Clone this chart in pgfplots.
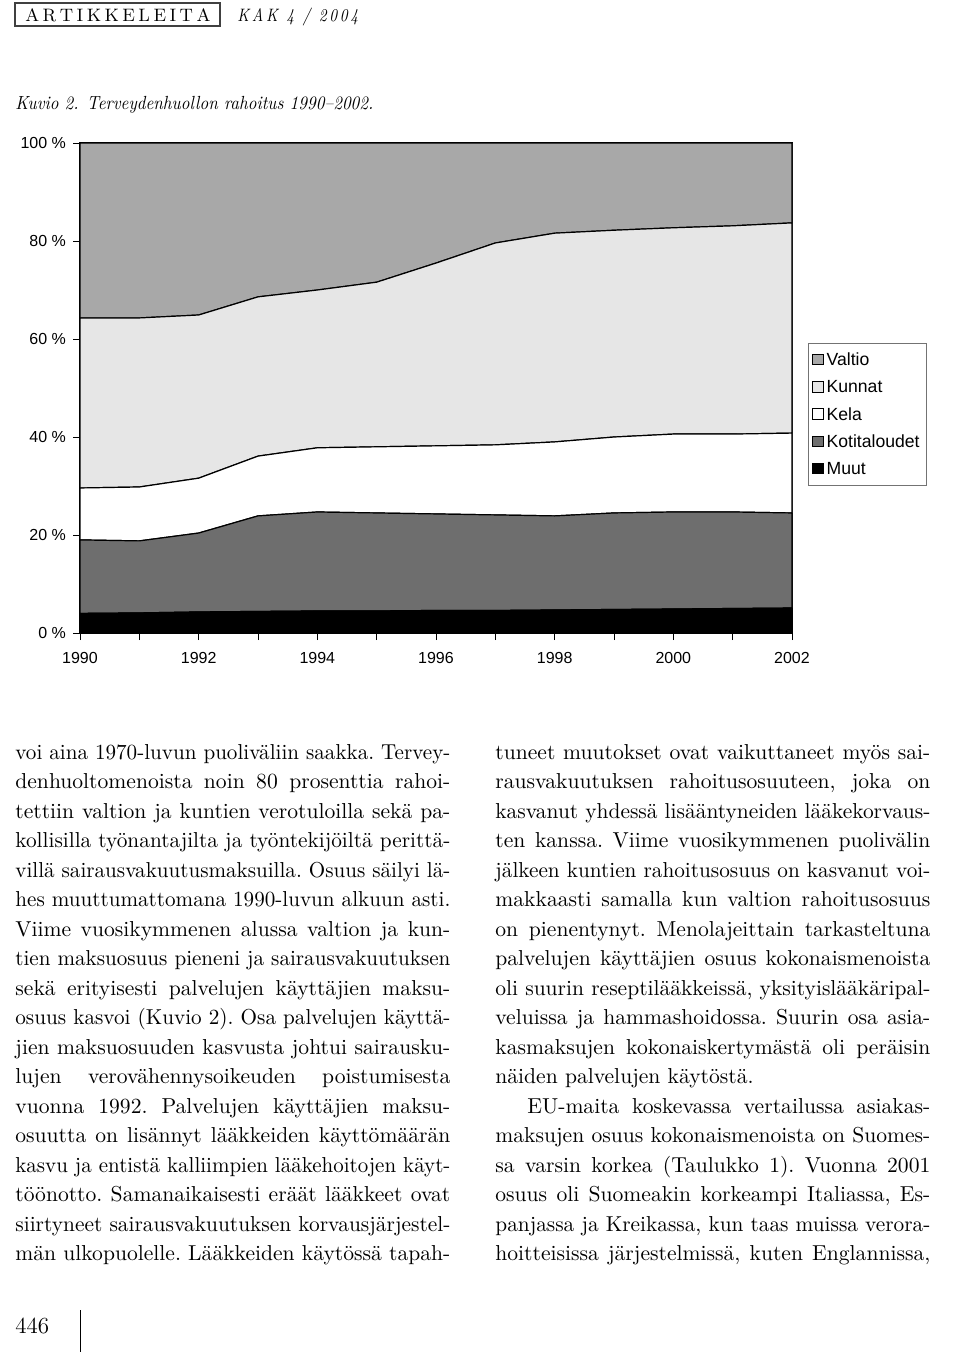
\documentclass[border=0pt]{standalone}
\usepackage{fontspec}
\usepackage{graphicx}
\usepackage{pgfplots}
\pgfplotsset{compat=1.18}
\newfontfamily\arial{Liberation Sans}
\definecolor{valtio}{HTML}{A8A8A8}
\definecolor{kunnat}{HTML}{E6E6E6}
\definecolor{kela}{HTML}{FFFFFF}
\definecolor{koti}{HTML}{6E6E6E}
\definecolor{muut}{HTML}{000000}
\newlength\colw \setlength\colw{217.5pt}
\newsavebox\lbox
\newcommand\bodyfont{\fontsize{10.8}{12}\selectfont\frenchspacing}
\newcommand\jl[1]{\sbox\lbox{#1}\ifdim\wd\lbox>\colw\resizebox{\colw}{\ht\lbox}{\usebox\lbox}\else\makebox[\colw][s]{#1}\fi}
\newcommand\Lrow[2]{\node[anchor=base west,inner sep=0pt] at (15,{759+(#1-1)*29.5}) {\bodyfont\jl{#2}};}
\newcommand\Rrow[2]{\node[anchor=base west,inner sep=0pt] at (495,{759+(#1-1)*29.5}) {\bodyfont\jl{#2}};}
\hbadness=10000 \hfuzz=50pt
\begin{document}
\begin{tikzpicture}
\begin{scope}[x=0.5pt,y=-0.5pt]
\useasboundingbox (0,0) rectangle (960,1357);
\fill[white] (0,0) rectangle (960,1357);
% header
\draw[line width=0.6pt, black!75] (15,3) rectangle (220,26);
\node[anchor=base west, inner sep=0pt] at (25,21) {\fontsize{9}{10}\selectfont\makebox[92.5pt][s]{A\hfill R\hfill T\hfill I\hfill K\hfill K\hfill E\hfill L\hfill E\hfill I\hfill T\hfill A}};
\node[anchor=base west, inner sep=0pt] at (237,21) {\fontsize{9}{10}\selectfont\itshape\resizebox{60.5pt}{\height}{K\kern1.6pt A\kern1.6pt K\kern5pt 4\kern5pt /\kern5pt 2\kern1.6pt 0\kern1.6pt 0\kern1.6pt 4}};
\node[anchor=base west, inner sep=0pt] at (15,109) {\fontsize{9.5}{11}\selectfont\itshape\resizebox{179pt}{\height}{Kuvio 2. Terveydenhuollon rahoitus 1990–2002.}};
% left column
\Lrow{1}{voi aina 1970-luvun puoliväliin saakka. Tervey-}
\Lrow{2}{denhuoltomenoista noin 80 prosenttia rahoi-}
\Lrow{3}{tettiin valtion ja kuntien verotuloilla sekä pa-}
\Lrow{4}{kollisilla työnantajilta ja työntekijöiltä perittä-}
\Lrow{5}{villä sairausvakuutusmaksuilla. Osuus säilyi lä-}
\Lrow{6}{hes muuttumattomana 1990-luvun alkuun asti.}
\Lrow{7}{Viime vuosikymmenen alussa valtion ja kun-}
\Lrow{8}{tien maksuosuus pieneni ja sairausvakuutuksen}
\Lrow{9}{sekä erityisesti palvelujen käyttäjien maksu-}
\Lrow{10}{osuus kasvoi (Kuvio 2). Osa palvelujen käyttä-}
\Lrow{11}{jien maksuosuuden kasvusta johtui sairausku-}
\Lrow{12}{lujen verovähennysoikeuden poistumisesta}
\Lrow{13}{vuonna 1992. Palvelujen käyttäjien maksu-}
\Lrow{14}{osuutta on lisännyt lääkkeiden käyttömäärän}
\Lrow{15}{kasvu ja entistä kalliimpien lääkehoitojen käyt-}
\Lrow{16}{töönotto. Samanaikaisesti eräät lääkkeet ovat}
\Lrow{17}{siirtyneet sairausvakuutuksen korvausjärjestel-}
\Lrow{18}{män ulkopuolelle. Lääkkeiden käytössä tapah-}
% right column
\Rrow{1}{tuneet muutokset ovat vaikuttaneet myös sai-}
\Rrow{2}{rausvakuutuksen rahoitusosuuteen, joka on}
\Rrow{3}{kasvanut yhdessä lisääntyneiden lääkekorvaus-}
\Rrow{4}{ten kanssa. Viime vuosikymmenen puolivälin}
\Rrow{5}{jälkeen kuntien rahoitusosuus on kasvanut voi-}
\Rrow{6}{makkaasti samalla kun valtion rahoitusosuus}
\Rrow{7}{on pienentynyt. Menolajeittain tarkasteltuna}
\Rrow{8}{palvelujen käyttäjien osuus kokonaismenoista}
\Rrow{9}{oli suurin reseptilääkkeissä, yksityislääkäripal-}
\Rrow{10}{veluissa ja hammashoidossa. Suurin osa asia-}
\Rrow{11}{kasmaksujen kokonaiskertymästä oli peräisin}
\node[anchor=base west,inner sep=0pt] at (495,{759+11*29.5}) {\bodyfont näiden palvelujen käytöstä.};
\node[anchor=base west,inner sep=0pt] at (527,{759+12*29.5}) {\bodyfont\makebox[201.5pt][s]{EU-maita koskevassa vertailussa asiakas-}};
\Rrow{14}{maksujen osuus kokonaismenoista on Suomes-}
\Rrow{15}{sa varsin korkea (Taulukko 1). Vuonna 2001}
\Rrow{16}{osuus oli Suomeakin korkeampi Italiassa, Es-}
\Rrow{17}{panjassa ja Kreikassa, kun taas muissa verora-}
\Rrow{18}{hoitteisissa järjestelmissä, kuten Englannissa,}
% page number
\node[anchor=base west, inner sep=0pt] at (15,1333) {\fontsize{11.5}{12}\selectfont 446};
\draw[line width=0.5pt] (80,1310) -- (80,1352);
\end{scope}
\begin{axis}[
  at={(40pt,-316.5pt)}, anchor=south west,
  scale only axis, width=356pt, height=245pt,
  xmin=1990, xmax=2002, ymin=0, ymax=100,
  enlargelimits=false,
  stack plots=y,
  axis line style={black, line width=0.8pt},
  tick align=outside, tick pos=left,
  major tick length=3.5pt, minor tick length=3.5pt,
  tick style={black, line width=0.5pt},
  xtick={1990,1992,1994,1996,1998,2000,2002},
  xticklabels={1990,1992,1994,1996,1998,2000,2002},
  minor xtick={1991,1993,1995,1997,1999,2001},
  ytick={0,20,40,60,80,100},
  yticklabels={0 \%,20 \%,40 \%,60 \%,80 \%,100 \%},
  ticklabel style={font=\arial\fontsize{8}{9}\selectfont},
  xticklabel style={yshift=-2.5pt},
  reverse legend,
  legend style={at={(1.0225,0.447)}, anchor=west, draw=black!55, line width=0.4pt,
    font=\arial\fontsize{8.8}{10}\selectfont, inner xsep=2pt, inner ysep=1.5pt,
    row sep=0pt, column sep=0pt,
    nodes={inner xsep=1.5pt, inner ysep=0pt, text height=9.9pt, text depth=3.7pt}},
  legend cell align=left,
  legend image code/.code={\draw[#1,draw=black,line width=0.4pt] (0.5pt,-2.6pt) rectangle (5.7pt,2.6pt);},
  every axis plot/.append style={draw=black, line width=0.6pt, mark=none},
]
\addplot[fill=muut] coordinates {(1990,4.0)(1991,4.1)(1992,4.3)(1993,4.4)(1994,4.5)(1995,4.5)(1996,4.6)(1997,4.6)(1998,4.7)(1999,4.8)(2000,4.9)(2001,5.0)(2002,5.1)} \closedcycle;
\addlegendentry{Muut}
\addplot[fill=koti] coordinates {(1990,15.0)(1991,14.7)(1992,16.1)(1993,19.5)(1994,20.2)(1995,20.0)(1996,19.7)(1997,19.5)(1998,19.2)(1999,19.7)(2000,19.8)(2001,19.7)(2002,19.4)} \closedcycle;
\addlegendentry{Kotitaloudet}
\addplot[fill=kela] coordinates {(1990,10.6)(1991,11.0)(1992,11.2)(1993,12.2)(1994,13.1)(1995,13.5)(1996,13.9)(1997,14.3)(1998,15.1)(1999,15.5)(2000,15.9)(2001,15.9)(2002,16.3)} \closedcycle;
\addlegendentry{Kela}
\addplot[fill=kunnat] coordinates {(1990,34.7)(1991,34.5)(1992,33.3)(1993,32.5)(1994,32.2)(1995,33.6)(1996,37.3)(1997,41.2)(1998,42.6)(1999,42.2)(2000,42.1)(2001,42.5)(2002,42.9)} \closedcycle;
\addlegendentry{Kunnat}
\addplot[fill=valtio] coordinates {(1990,35.7)(1991,35.7)(1992,35.1)(1993,31.4)(1994,30.0)(1995,28.4)(1996,24.5)(1997,20.4)(1998,18.4)(1999,17.8)(2000,17.3)(2001,16.9)(2002,16.3)} \closedcycle;
\addlegendentry{Valtio}
\end{axis}
\end{tikzpicture}
\end{document}
